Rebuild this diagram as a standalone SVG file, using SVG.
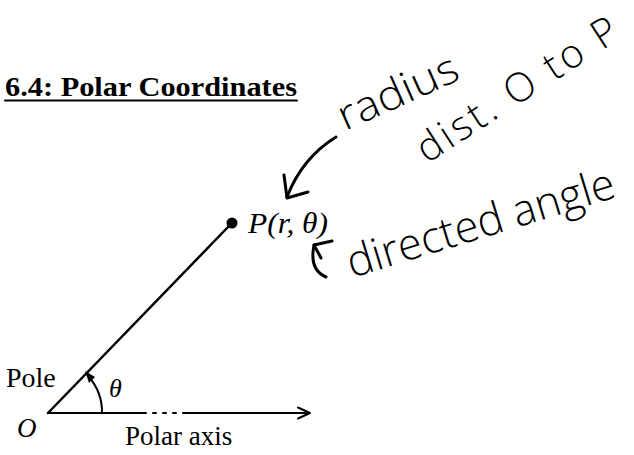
<svg xmlns="http://www.w3.org/2000/svg" width="634" height="455" viewBox="0 0 634 455">
<style>
.serif{font-family:"Liberation Serif","Times New Roman",serif;fill:#000}
.it{font-style:italic}
.hand{font-family:"Open Sans","DejaVu Sans",sans-serif;font-weight:300;fill:#000}
.ln{stroke:#000;fill:none;stroke-linecap:round;stroke-linejoin:round}
</style>
<rect width="634" height="455" fill="#fff"/>
<g id="title">
<text class="serif" x="5" y="96" font-size="28" font-weight="bold" textLength="292" lengthAdjust="spacingAndGlyphs">6.4: Polar Coordinates</text>
<line class="ln" x1="5" y1="100.5" x2="297" y2="100.5" stroke-width="2" stroke-linecap="butt"/>
</g>
<g id="connectors">
<line class="ln" x1="48" y1="413" x2="229" y2="226" stroke-width="2.5"/>
<line class="ln" x1="48" y1="413" x2="143" y2="413" stroke-width="2.2"/>
<line class="ln" x1="143" y1="413" x2="187" y2="413" stroke-width="2" stroke-dasharray="3 7" stroke-linecap="butt"/>
<line class="ln" x1="187" y1="413" x2="309" y2="413" stroke-width="2.2"/>
<path class="ln" d="M298 407.5 L310 413 L298 418.5" stroke-width="2"/>
<path class="ln" d="M102 413 A54 54 0 0 0 89 377" stroke-width="2"/>
<polygon points="85,371 95,377 89,383" fill="#000"/>
<path class="ln" d="M336 137 Q302 158 287 197" stroke-width="3"/>
<path class="ln" d="M284 175 L287 198 L308 192" stroke-width="3"/>
<path class="ln" d="M326 277 Q309 270 314 245" stroke-width="3"/>
<path class="ln" d="M332 241 L314 245 L321 258" stroke-width="3"/>
</g>
<g id="point-P">
<circle cx="232" cy="223" r="5.5" fill="#000"/>
<text class="serif it" x="248" y="233" font-size="29" textLength="80" lengthAdjust="spacingAndGlyphs">P(r, θ)</text>
</g>
<g id="pole">
<text class="serif" x="6" y="387" font-size="28">Pole</text>
<text class="serif it" x="17" y="437" font-size="27">O</text>
</g>
<g id="angle-label">
<text class="serif it" x="109" y="397" font-size="26">θ</text>
</g>
<g id="polar-axis">
<text class="serif" x="125" y="445" font-size="27">Polar axis</text>
</g>
<g id="note-radius">
<text class="hand" transform="translate(345,131) rotate(-24)" font-size="42" textLength="128" lengthAdjust="spacingAndGlyphs">radius</text>
</g>
<g id="note-dist">
<text class="hand" transform="translate(427,164) rotate(-33)" font-size="40" textLength="232" lengthAdjust="spacing">dist. O to P</text>
</g>
<g id="note-directed">
<text class="hand" transform="translate(352,278) rotate(-17)" font-size="44" textLength="278" lengthAdjust="spacingAndGlyphs">directed angle</text>
</g>
</svg>
